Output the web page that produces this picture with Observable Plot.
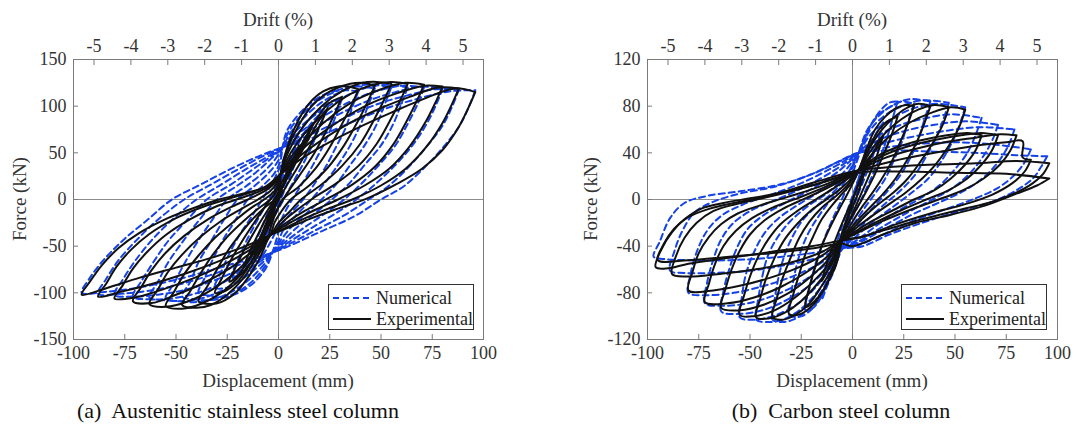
<!DOCTYPE html>
<html>
<head>
<meta charset="utf-8">
<script src="https://cdn.jsdelivr.net/npm/d3@7"></script>
<script src="https://cdn.jsdelivr.net/npm/@observablehq/plot@0.6"></script>
<style>
  html, body { margin: 0; padding: 0; background: #fff; }
  #figure { position: relative; width: 1077px; height: 434px; font-family: "Liberation Serif", "Times New Roman", serif; color: #222; }
  .panel { position: absolute; top: 0; }
  .title { position: absolute; font-size: 19px; white-space: pre; transform: translate(-50%, -50%); color: #333; }
  .ytitle { transform: translate(-50%, -50%) rotate(-90deg); }
  .caption { position: absolute; font-size: 22px; white-space: pre; transform: translate(-50%, -50%); color: #111; }
  .legend { position: absolute; border: 1px solid #333; background: #fff; box-sizing: border-box; }
  .legend .row { position: absolute; left: 0; height: 20px; display: flex; align-items: center; font-size: 18px; color: #222; }
  .legend svg { margin-right: 3px; }
</style>
</head>
<body>
<div id="figure"></div>
<script>
// Tick values
const displacementTicks = [-100, -75, -50, -25, 0, 25, 50, 75, 100];
const driftTicks = [-5, -4, -3, -2, -1, 0, 1, 2, 3, 4, 5];
const mmPerPercentDrift = 18; // column height 1800 mm
const austeniticForceTicks = [-150, -100, -50, 0, 50, 100, 150];
const carbonForceTicks = [-120, -80, -40, 0, 40, 80, 120];

// (a) Austenitic stainless steel column, experimental loops [displacement mm, force kN]
const austeniticExperimental = [
  [[96,115],[93,100],[88,78],[80,53],[70,33],[58,17],[43,1],[30,-9],[15,-21],[4,-31],[-4,-38],[-16,-50],[-32,-62],[-50,-73],[-68,-84],[-84,-95],[-96,-102],[-92,-88],[-86,-70],[-78,-52],[-68,-36],[-54,-20],[-40,-8],[-29,0],[-18,6],[-7,13],[1,27],[10,42],[22,58],[38,76],[55,93],[70,107],[86,119],[96,115]],
  [[88,119],[85,104],[80,82],[72,56],[62,33],[50,15],[36,0],[24,-10],[12,-21],[3,-31],[-4,-38],[-15,-52],[-29,-66],[-45,-79],[-61,-90],[-77,-99],[-88,-104],[-84,-90],[-79,-72],[-72,-54],[-63,-37],[-50,-20],[-37,-8],[-24,1],[-13,8],[-5,15],[1,27],[9,44],[20,62],[34,81],[50,98],[64,110],[78,120],[88,119]],
  [[80,121],[77,106],[72,84],[64,57],[54,33],[42,15],[29,0],[18,-11],[8,-22],[1,-31],[-4,-38],[-14,-54],[-27,-70],[-41,-84],[-56,-96],[-70,-105],[-80,-106],[-76,-92],[-71,-74],[-64,-56],[-55,-38],[-43,-21],[-31,-8],[-19,1],[-9,9],[-3,16],[1,27],[8,46],[18,66],[31,86],[45,103],[58,114],[71,122],[80,121]],
  [[71,123],[68,108],[63,86],[56,59],[47,35],[36,16],[23,0],[13,-12],[5,-23],[0,-31],[-4,-38],[-13,-56],[-24,-74],[-37,-90],[-50,-102],[-62,-111],[-71,-109],[-67,-94],[-62,-76],[-55,-57],[-46,-39],[-35,-22],[-24,-9],[-14,1],[-6,10],[-2,17],[1,27],[7,48],[16,70],[27,91],[39,108],[51,119],[62,125],[71,123]],
  [[63,124],[60,109],[55,87],[48,60],[39,36],[28,17],[16,0],[8,-13],[2,-24],[-1,-32],[-4,-38],[-12,-58],[-21,-78],[-32,-96],[-44,-109],[-55,-115],[-63,-112],[-59,-97],[-54,-78],[-47,-59],[-38,-40],[-28,-23],[-18,-10],[-10,0],[-4,9],[-1,17],[1,27],[6,50],[14,74],[24,96],[35,113],[46,123],[55,126],[63,124]],
  [[55,124],[52,109],[47,87],[40,60],[31,36],[21,16],[11,0],[5,-14],[0,-25],[-2,-32],[-4,-38],[-11,-60],[-19,-82],[-28,-100],[-38,-112],[-47,-117],[-55,-114],[-51,-99],[-46,-80],[-39,-60],[-31,-41],[-22,-24],[-14,-10],[-7,0],[-2,9],[0,17],[1,27],[5,52],[12,78],[21,100],[31,116],[41,125],[48,126],[55,124]],
  [[47,122],[44,107],[39,85],[32,58],[24,34],[15,15],[6,0],[1,-14],[-2,-25],[-3,-32],[-4,-38],[-10,-60],[-17,-84],[-25,-102],[-33,-113],[-40,-116],[-47,-113],[-43,-98],[-38,-79],[-32,-59],[-25,-40],[-17,-23],[-10,-10],[-4,0],[-1,9],[0,17],[1,27],[4,52],[10,80],[17,102],[26,117],[35,124],[41,125],[47,122]],
  [[39,118],[36,103],[31,81],[25,56],[18,33],[10,14],[2,0],[-1,-13],[-3,-24],[-4,-32],[-5,-40],[-9,-62],[-15,-84],[-21,-100],[-28,-110],[-33,-112],[-39,-109],[-35,-94],[-30,-75],[-25,-56],[-19,-38],[-13,-22],[-7,-9],[-2,0],[0,9],[1,17],[1,27],[4,54],[9,82],[15,103],[22,116],[29,121],[34,121],[39,118]],
  [[31,110],[28,95],[23,72],[17,48],[10,25],[4,6],[-1,-12],[-5,-30],[-9,-48],[-14,-70],[-20,-88],[-26,-98],[-31,-100],[-28,-86],[-23,-64],[-17,-42],[-11,-22],[-5,-3],[1,16],[6,38],[12,62],[18,84],[24,102],[31,110]],
  [[24,98],[21,83],[16,60],[10,37],[4,15],[-1,-5],[-5,-24],[-10,-45],[-15,-66],[-20,-82],[-24,-88],[-21,-73],[-16,-51],[-10,-28],[-4,-7],[2,14],[8,38],[14,62],[19,82],[24,98]],
  [[17,82],[14,66],[9,44],[4,22],[-1,1],[-5,-20],[-9,-41],[-13,-60],[-17,-72],[-14,-56],[-9,-33],[-4,-11],[1,10],[6,33],[11,56],[17,82]],
  [[10,58],[7,40],[3,20],[-1,0],[-4,-20],[-7,-38],[-10,-50],[-7,-32],[-3,-12],[1,8],[5,30],[10,58]],
  [[5,32],[2,14],[-1,-4],[-3,-18],[-5,-28],[-2,-10],[1,8],[3,20],[5,32]]
];

// (a) Austenitic stainless steel column, numerical loops
const austeniticNumerical = [
  [[96,117],[93,100],[88,78],[80,55],[72,36],[61,14],[50,0],[37,-18],[20,-35],[5,-50],[-3,-57],[-12,-63],[-24,-70],[-38,-79],[-54,-88],[-70,-95],[-85,-99],[-96,-100],[-92,-84],[-85,-64],[-75,-42],[-64,-22],[-52,0],[-38,16],[-24,32],[-10,46],[2,56],[11,62],[23,71],[37,84],[53,98],[68,108],[84,116],[96,117]],
  [[88,118],[85,101],[80,79],[72,56],[64,36],[54,15],[44,0],[32,-17],[18,-33],[5,-48],[-3,-57],[-12,-64],[-23,-73],[-36,-83],[-50,-92],[-64,-98],[-77,-101],[-88,-101],[-84,-85],[-78,-65],[-69,-43],[-59,-22],[-46,0],[-33,16],[-20,32],[-8,46],[2,56],[10,64],[21,75],[34,89],[48,102],[62,111],[76,118],[88,118]],
  [[80,119],[77,102],[72,80],[65,57],[57,37],[47,16],[38,0],[27,-16],[15,-32],[4,-47],[-3,-57],[-11,-66],[-21,-77],[-33,-88],[-46,-97],[-59,-102],[-70,-104],[-80,-102],[-76,-86],[-70,-66],[-62,-44],[-52,-22],[-40,0],[-28,16],[-17,31],[-6,45],[2,56],[9,66],[19,79],[31,93],[44,106],[57,115],[69,121],[80,119]],
  [[71,120],[68,103],[63,81],[57,58],[49,37],[40,16],[32,0],[22,-16],[12,-31],[3,-46],[-3,-57],[-10,-68],[-19,-80],[-30,-92],[-41,-101],[-52,-106],[-62,-107],[-71,-104],[-67,-88],[-61,-67],[-54,-45],[-45,-23],[-35,0],[-24,15],[-14,30],[-5,44],[2,56],[8,68],[17,82],[28,97],[40,110],[51,118],[61,122],[71,120]],
  [[63,120],[60,103],[56,81],[50,58],[42,37],[34,16],[26,0],[17,-16],[9,-30],[2,-45],[-3,-57],[-9,-70],[-17,-84],[-26,-96],[-36,-105],[-46,-109],[-55,-108],[-63,-105],[-59,-89],[-54,-68],[-47,-46],[-39,-23],[-30,0],[-20,15],[-11,29],[-4,43],[2,56],[7,70],[15,86],[25,101],[35,113],[45,121],[54,123],[63,120]],
  [[55,120],[52,103],[48,81],[42,58],[35,37],[28,16],[21,0],[13,-16],[6,-30],[1,-44],[-3,-57],[-8,-72],[-15,-87],[-23,-99],[-32,-107],[-41,-110],[-48,-109],[-55,-106],[-51,-90],[-46,-69],[-40,-47],[-33,-24],[-25,0],[-16,14],[-8,28],[-2,42],[2,56],[6,72],[13,89],[21,104],[30,115],[39,122],[47,123],[55,120]],
  [[47,119],[44,102],[40,80],[35,58],[29,37],[22,16],[16,0],[9,-16],[3,-30],[0,-44],[-3,-57],[-7,-73],[-13,-88],[-20,-99],[-28,-106],[-35,-108],[-41,-107],[-47,-104],[-43,-88],[-39,-67],[-33,-45],[-27,-23],[-20,0],[-12,14],[-5,28],[0,42],[2,56],[5,73],[11,90],[18,104],[26,114],[33,120],[40,121],[47,119]],
  [[39,116],[36,99],[33,78],[28,56],[23,35],[17,15],[12,0],[6,-15],[1,-29],[-1,-43],[-3,-57],[-6,-73],[-11,-87],[-17,-97],[-23,-103],[-29,-105],[-34,-103],[-39,-100],[-36,-84],[-32,-64],[-27,-43],[-21,-22],[-15,0],[-8,14],[-2,28],[1,42],[2,56],[4,73],[9,89],[15,102],[21,111],[27,116],[33,117],[39,116]],
  [[31,108],[28,90],[24,68],[19,46],[14,26],[9,8],[4,-10],[0,-28],[-4,-46],[-9,-64],[-15,-80],[-21,-90],[-26,-95],[-31,-94],[-28,-78],[-24,-58],[-19,-38],[-13,-18],[-8,0],[-3,18],[1,36],[5,54],[10,72],[16,88],[22,100],[27,106],[31,108]],
  [[23,95],[20,78],[16,56],[11,34],[6,14],[1,-6],[-4,-26],[-9,-46],[-14,-64],[-19,-77],[-23,-82],[-20,-66],[-16,-46],[-11,-25],[-6,-5],[-1,15],[4,36],[9,57],[14,76],[19,89],[23,95]],
  [[15,78],[12,60],[8,38],[4,16],[0,-6],[-4,-28],[-8,-48],[-12,-62],[-15,-68],[-12,-50],[-8,-29],[-4,-8],[0,14],[4,36],[8,56],[12,70],[15,78]],
  [[8,50],[5,30],[2,10],[-1,-10],[-4,-30],[-8,-46],[-5,-28],[-2,-8],[1,12],[4,32],[8,50]]
];

// (b) Carbon steel column, experimental loops
const carbonExperimental = [
  [[96,31],[93,22],[88,14],[80,6],[68,-2],[52,-9],[34,-17],[16,-26],[2,-33],[-5,-35],[-20,-40],[-40,-45],[-60,-50],[-80,-55],[-90,-59],[-96,-58],[-93,-42],[-88,-28],[-82,-17],[-74,-8],[-63,-3],[-50,1],[-35,6],[-18,15],[3,25],[20,28],[40,30],[60,31],[80,33],[96,31]],
  [[96,18],[90,12],[80,5],[65,-5],[48,-13],[31,-20],[15,-30],[0,-40],[-5,-38],[-20,-42],[-40,-46],[-60,-49],[-80,-52],[-95,-52],[-92,-38],[-87,-25],[-80,-15],[-70,-8],[-55,-2],[-38,4],[-20,12],[3,23],[25,24],[50,23],[75,22],[96,18]],
  [[87,34],[84,24],[78,14],[68,4],[55,-4],[38,-12],[20,-22],[5,-32],[-5,-35],[-15,-45],[-30,-54],[-48,-60],[-66,-64],[-80,-66],[-88,-64],[-86,-48],[-82,-33],[-76,-20],[-68,-10],[-57,-4],[-44,1],[-30,7],[-14,15],[3,25],[20,33],[40,40],[60,46],[75,49],[83,50],[83,36],[87,34]],
  [[80,55],[77,42],[72,30],[64,18],[54,8],[42,0],[28,-9],[14,-19],[2,-29],[-5,-35],[-14,-47],[-26,-58],[-40,-67],[-55,-74],[-68,-78],[-80,-78],[-78,-62],[-75,-46],[-70,-32],[-64,-21],[-56,-12],[-45,-5],[-32,2],[-16,11],[3,25],[15,35],[30,43],[45,49],[60,53],[72,56],[80,55]],
  [[71,55],[68,42],[63,30],[56,18],[47,8],[36,0],[24,-9],[12,-19],[1,-29],[-5,-35],[-13,-50],[-23,-63],[-35,-75],[-48,-84],[-61,-89],[-72,-88],[-70,-72],[-67,-55],[-63,-40],[-57,-27],[-49,-16],[-39,-7],[-27,1],[-13,11],[3,25],[13,36],[26,45],[40,51],[53,55],[63,57],[71,55]],
  [[63,55],[60,42],[55,30],[48,18],[40,8],[30,0],[20,-9],[9,-19],[0,-29],[-5,-35],[-12,-52],[-21,-67],[-31,-80],[-43,-90],[-55,-95],[-64,-93],[-62,-77],[-59,-60],[-55,-44],[-50,-30],[-43,-18],[-34,-8],[-23,1],[-11,11],[3,25],[11,36],[22,45],[34,51],[46,55],[56,57],[63,55]],
  [[55,77],[52,62],[47,46],[41,31],[34,18],[26,6],[17,-5],[8,-16],[0,-27],[-5,-35],[-11,-54],[-19,-70],[-28,-84],[-38,-95],[-48,-100],[-55,-99],[-53,-83],[-50,-66],[-46,-49],[-41,-34],[-35,-21],[-27,-10],[-18,0],[-8,11],[3,25],[10,40],[18,54],[28,66],[38,74],[48,79],[55,77]],
  [[47,79],[44,64],[39,48],[33,32],[27,18],[20,6],[12,-5],[5,-16],[-1,-27],[-5,-35],[-10,-55],[-17,-72],[-25,-87],[-33,-97],[-41,-102],[-47,-101],[-45,-85],[-42,-67],[-38,-50],[-33,-34],[-27,-21],[-20,-9],[-12,1],[-4,12],[3,25],[9,42],[16,57],[24,69],[32,77],[40,81],[47,79]],
  [[38,80],[35,65],[31,48],[26,32],[21,18],[15,5],[9,-6],[3,-17],[-2,-27],[-5,-35],[-9,-56],[-15,-74],[-21,-89],[-28,-99],[-34,-103],[-39,-101],[-37,-85],[-34,-67],[-30,-49],[-26,-33],[-21,-19],[-15,-7],[-8,3],[-2,13],[3,25],[8,43],[14,59],[20,70],[26,78],[32,82],[38,80]],
  [[30,80],[27,65],[23,48],[19,32],[14,17],[9,4],[4,-8],[0,-19],[-3,-28],[-5,-35],[-8,-56],[-13,-74],[-18,-88],[-23,-96],[-27,-99],[-31,-98],[-29,-82],[-26,-64],[-23,-47],[-19,-31],[-15,-17],[-10,-5],[-5,5],[0,15],[3,25],[7,44],[11,60],[16,71],[21,78],[26,81],[30,80]],
  [[22,71],[19,55],[15,38],[11,22],[7,8],[3,-5],[-1,-17],[-4,-28],[-7,-45],[-10,-62],[-14,-77],[-19,-88],[-23,-92],[-21,-75],[-18,-57],[-15,-40],[-11,-24],[-7,-10],[-3,3],[1,17],[5,33],[9,48],[13,60],[17,67],[22,71]],
  [[15,55],[12,38],[8,20],[4,4],[0,-12],[-4,-28],[-8,-45],[-12,-60],[-15,-70],[-12,-52],[-8,-33],[-4,-16],[0,0],[4,17],[8,33],[12,46],[15,55]],
  [[8,35],[5,18],[2,2],[-2,-15],[-5,-30],[-8,-45],[-5,-28],[-2,-12],[1,4],[4,19],[8,35]]
];

// (b) Carbon steel column, numerical loops
const carbonNumerical = [
  [[95,37],[92,28],[88,18],[80,8],[68,-2],[52,-10],[34,-20],[18,-30],[5,-40],[-5,-42],[-20,-46],[-40,-50],[-60,-52],[-80,-52],[-92,-51],[-97,-49],[-94,-36],[-89,-16],[-82,-3],[-71,3],[-55,7],[-35,13],[-18,23],[-4,35],[3,40],[20,42],[40,41],[60,40],[80,38],[95,37]],
  [[87,43],[84,32],[79,21],[71,10],[60,1],[46,-8],[30,-18],[15,-30],[3,-39],[-5,-42],[-17,-50],[-32,-56],[-50,-61],[-68,-63],[-82,-63],[-89,-61],[-87,-45],[-83,-27],[-77,-11],[-68,-2],[-55,5],[-38,11],[-21,21],[-6,33],[3,40],[18,45],[35,48],[52,49],[70,47],[87,43]],
  [[79,60],[76,46],[71,32],[64,19],[55,8],[43,-2],[29,-13],[15,-26],[3,-37],[-5,-42],[-15,-54],[-28,-65],[-43,-74],[-58,-80],[-71,-82],[-80,-80],[-79,-64],[-76,-45],[-71,-27],[-64,-14],[-53,-4],[-40,4],[-25,14],[-9,28],[3,40],[15,48],[30,54],[46,59],[62,62],[79,60]],
  [[71,64],[68,50],[63,35],[57,22],[49,10],[39,0],[27,-11],[14,-24],[3,-36],[-5,-42],[-14,-57],[-25,-71],[-38,-82],[-51,-89],[-63,-91],[-72,-89],[-71,-72],[-68,-52],[-64,-34],[-58,-20],[-49,-9],[-37,0],[-23,11],[-8,26],[3,40],[13,51],[26,59],[40,64],[55,67],[71,64]],
  [[63,70],[60,55],[56,40],[50,26],[43,13],[34,2],[23,-9],[12,-22],[2,-35],[-5,-42],[-13,-60],[-22,-75],[-33,-87],[-44,-95],[-55,-98],[-64,-96],[-63,-79],[-60,-59],[-56,-40],[-51,-25],[-43,-13],[-33,-3],[-20,9],[-7,24],[3,40],[11,53],[22,63],[34,69],[48,73],[63,70]],
  [[55,79],[52,63],[48,47],[43,32],[37,18],[29,6],[20,-6],[10,-19],[1,-33],[-5,-42],[-12,-62],[-20,-79],[-29,-92],[-39,-100],[-48,-103],[-55,-101],[-54,-84],[-52,-64],[-48,-45],[-43,-29],[-36,-16],[-27,-5],[-16,7],[-5,22],[3,40],[9,56],[18,68],[28,77],[40,82],[55,79]],
  [[47,83],[44,67],[40,50],[35,34],[30,20],[23,7],[15,-5],[7,-18],[0,-32],[-5,-42],[-11,-63],[-18,-81],[-26,-95],[-34,-103],[-41,-105],[-47,-103],[-46,-86],[-44,-66],[-41,-47],[-36,-31],[-30,-18],[-22,-6],[-12,6],[-3,21],[3,40],[8,58],[15,71],[24,80],[34,85],[47,83]],
  [[38,84],[35,68],[32,51],[28,35],[23,20],[17,7],[11,-5],[4,-18],[-1,-31],[-5,-42],[-10,-63],[-16,-81],[-22,-95],[-29,-103],[-34,-105],[-39,-103],[-38,-86],[-36,-66],[-33,-47],[-29,-31],[-24,-17],[-17,-5],[-9,7],[-2,22],[3,40],[7,59],[13,72],[20,81],[28,86],[38,84]],
  [[30,82],[27,66],[24,49],[20,33],[16,18],[11,5],[6,-7],[1,-20],[-3,-32],[-6,-45],[-10,-65],[-15,-82],[-20,-94],[-25,-100],[-31,-99],[-30,-82],[-28,-62],[-25,-43],[-21,-27],[-16,-13],[-11,-1],[-5,12],[0,27],[4,45],[8,61],[13,73],[19,80],[24,84],[30,82]],
  [[22,84],[19,66],[16,48],[12,30],[8,14],[4,-1],[0,-15],[-4,-31],[-8,-50],[-12,-70],[-16,-86],[-20,-94],[-23,-95],[-21,-76],[-18,-55],[-14,-35],[-10,-18],[-6,-3],[-2,13],[2,32],[6,51],[10,67],[14,77],[18,83],[22,84]],
  [[15,66],[12,48],[8,28],[4,10],[0,-8],[-4,-28],[-8,-50],[-12,-72],[-15,-86],[-12,-66],[-9,-45],[-5,-22],[-1,-2],[3,18],[7,38],[11,55],[15,66]],
  [[8,42],[5,22],[2,4],[-2,-16],[-5,-36],[-8,-52],[-5,-32],[-2,-12],[1,6],[4,24],[8,42]]
];

const numericalColor = "#1442e6";
const experimentalColor = "#111111";
const numericalDash = "6,4";

function toRows(loops) {
  return loops.flatMap((loop, i) => loop.map(([x, y]) => ({x, y, loop: i})));
}

function hysteresisPanel({experimental, numerical, yDomain, yTicks, width, marginLeft, marginRight}) {
  const axisStyle = {stroke: "#7a7a7a", color: "#333"};
  return Plot.plot({
    width,
    height: 395,
    marginTop: 59,
    marginBottom: 56,
    marginLeft,
    marginRight,
    x: {domain: [-100, 100]},
    y: {domain: yDomain},
    style: {fontFamily: "'Liberation Serif', 'Times New Roman', serif", fontSize: "18px", background: "white", color: "#333"},
    marks: [
      Plot.ruleX([0], {stroke: "#8c8c8c", strokeWidth: 1}),
      Plot.ruleY([0], {stroke: "#8c8c8c", strokeWidth: 1}),
      Plot.line(toRows(numerical), {x: "x", y: "y", z: "loop", curve: "catmull-rom", stroke: numericalColor, strokeWidth: 2, strokeDasharray: numericalDash}),
      Plot.line(toRows(experimental), {x: "x", y: "y", z: "loop", curve: "catmull-rom", stroke: experimentalColor, strokeWidth: 2}),
      Plot.frame({stroke: "#7a7a7a", strokeWidth: 1}),
      Plot.axisX(displacementTicks, {anchor: "bottom", tickSize: -5, tickPadding: 12, label: null, tickFormat: d => `${d}`, ...axisStyle}),
      Plot.axisX(driftTicks.map(d => d * mmPerPercentDrift), {anchor: "top", tickSize: -5, tickPadding: 13, label: null, tickFormat: d => `${Math.round(d / mmPerPercentDrift)}`, ...axisStyle}),
      Plot.axisY(yTicks, {anchor: "left", tickSize: -5, tickPadding: 12, label: null, tickFormat: d => `${d}`, ...axisStyle})
    ]
  });
}

const figure = document.getElementById("figure");

function place(node, left) {
  const div = document.createElement("div");
  div.className = "panel";
  div.style.left = left + "px";
  div.appendChild(node);
  figure.appendChild(div);
}

place(hysteresisPanel({
  experimental: austeniticExperimental,
  numerical: austeniticNumerical,
  yDomain: [-150, 150],
  yTicks: austeniticForceTicks,
  width: 540, marginLeft: 73, marginRight: 57
}), 0);

place(hysteresisPanel({
  experimental: carbonExperimental,
  numerical: carbonNumerical,
  yDomain: [-120, 120],
  yTicks: carbonForceTicks,
  width: 537, marginLeft: 107, marginRight: 20
}), 540);

function addText(cls, text, x, y) {
  const d = document.createElement("div");
  d.className = cls;
  d.textContent = text;
  d.style.left = x + "px";
  d.style.top = y + "px";
  figure.appendChild(d);
}

// Axis titles
addText("title", "Drift (%)", 278, 20);
addText("title", "Displacement (mm)", 278, 381);
addText("title ytitle", "Force (kN)", 20, 199);
addText("title", "Drift (%)", 852, 20);
addText("title", "Displacement (mm)", 852, 381);
addText("title ytitle", "Force (kN)", 591, 199);

// Captions
addText("caption", "(a)  Austenitic stainless steel column", 238, 411);
addText("caption", "(b)  Carbon steel column", 841, 411);

// Legends
function addLegend(left, top) {
  const box = document.createElement("div");
  box.className = "legend";
  Object.assign(box.style, {left: left + "px", top: top + "px", width: "146px", height: "46px"});
  const entries = [
    {label: "Numerical", color: numericalColor, dash: numericalDash, y: 3},
    {label: "Experimental", color: experimentalColor, dash: null, y: 24}
  ];
  for (const e of entries) {
    const row = document.createElement("div");
    row.className = "row";
    row.style.top = e.y + "px";
    row.style.left = "4px";
    row.innerHTML = `<svg width="40" height="20"><line x1="0" x2="38" y1="10" y2="10" stroke="${e.color}" stroke-width="2" ${e.dash ? `stroke-dasharray="${e.dash}"` : ""}/></svg><span>${e.label}</span>`;
    box.appendChild(row);
  }
  figure.appendChild(box);
}
addLegend(328, 284);
addLegend(901, 284);
</script>
</body>
</html>
